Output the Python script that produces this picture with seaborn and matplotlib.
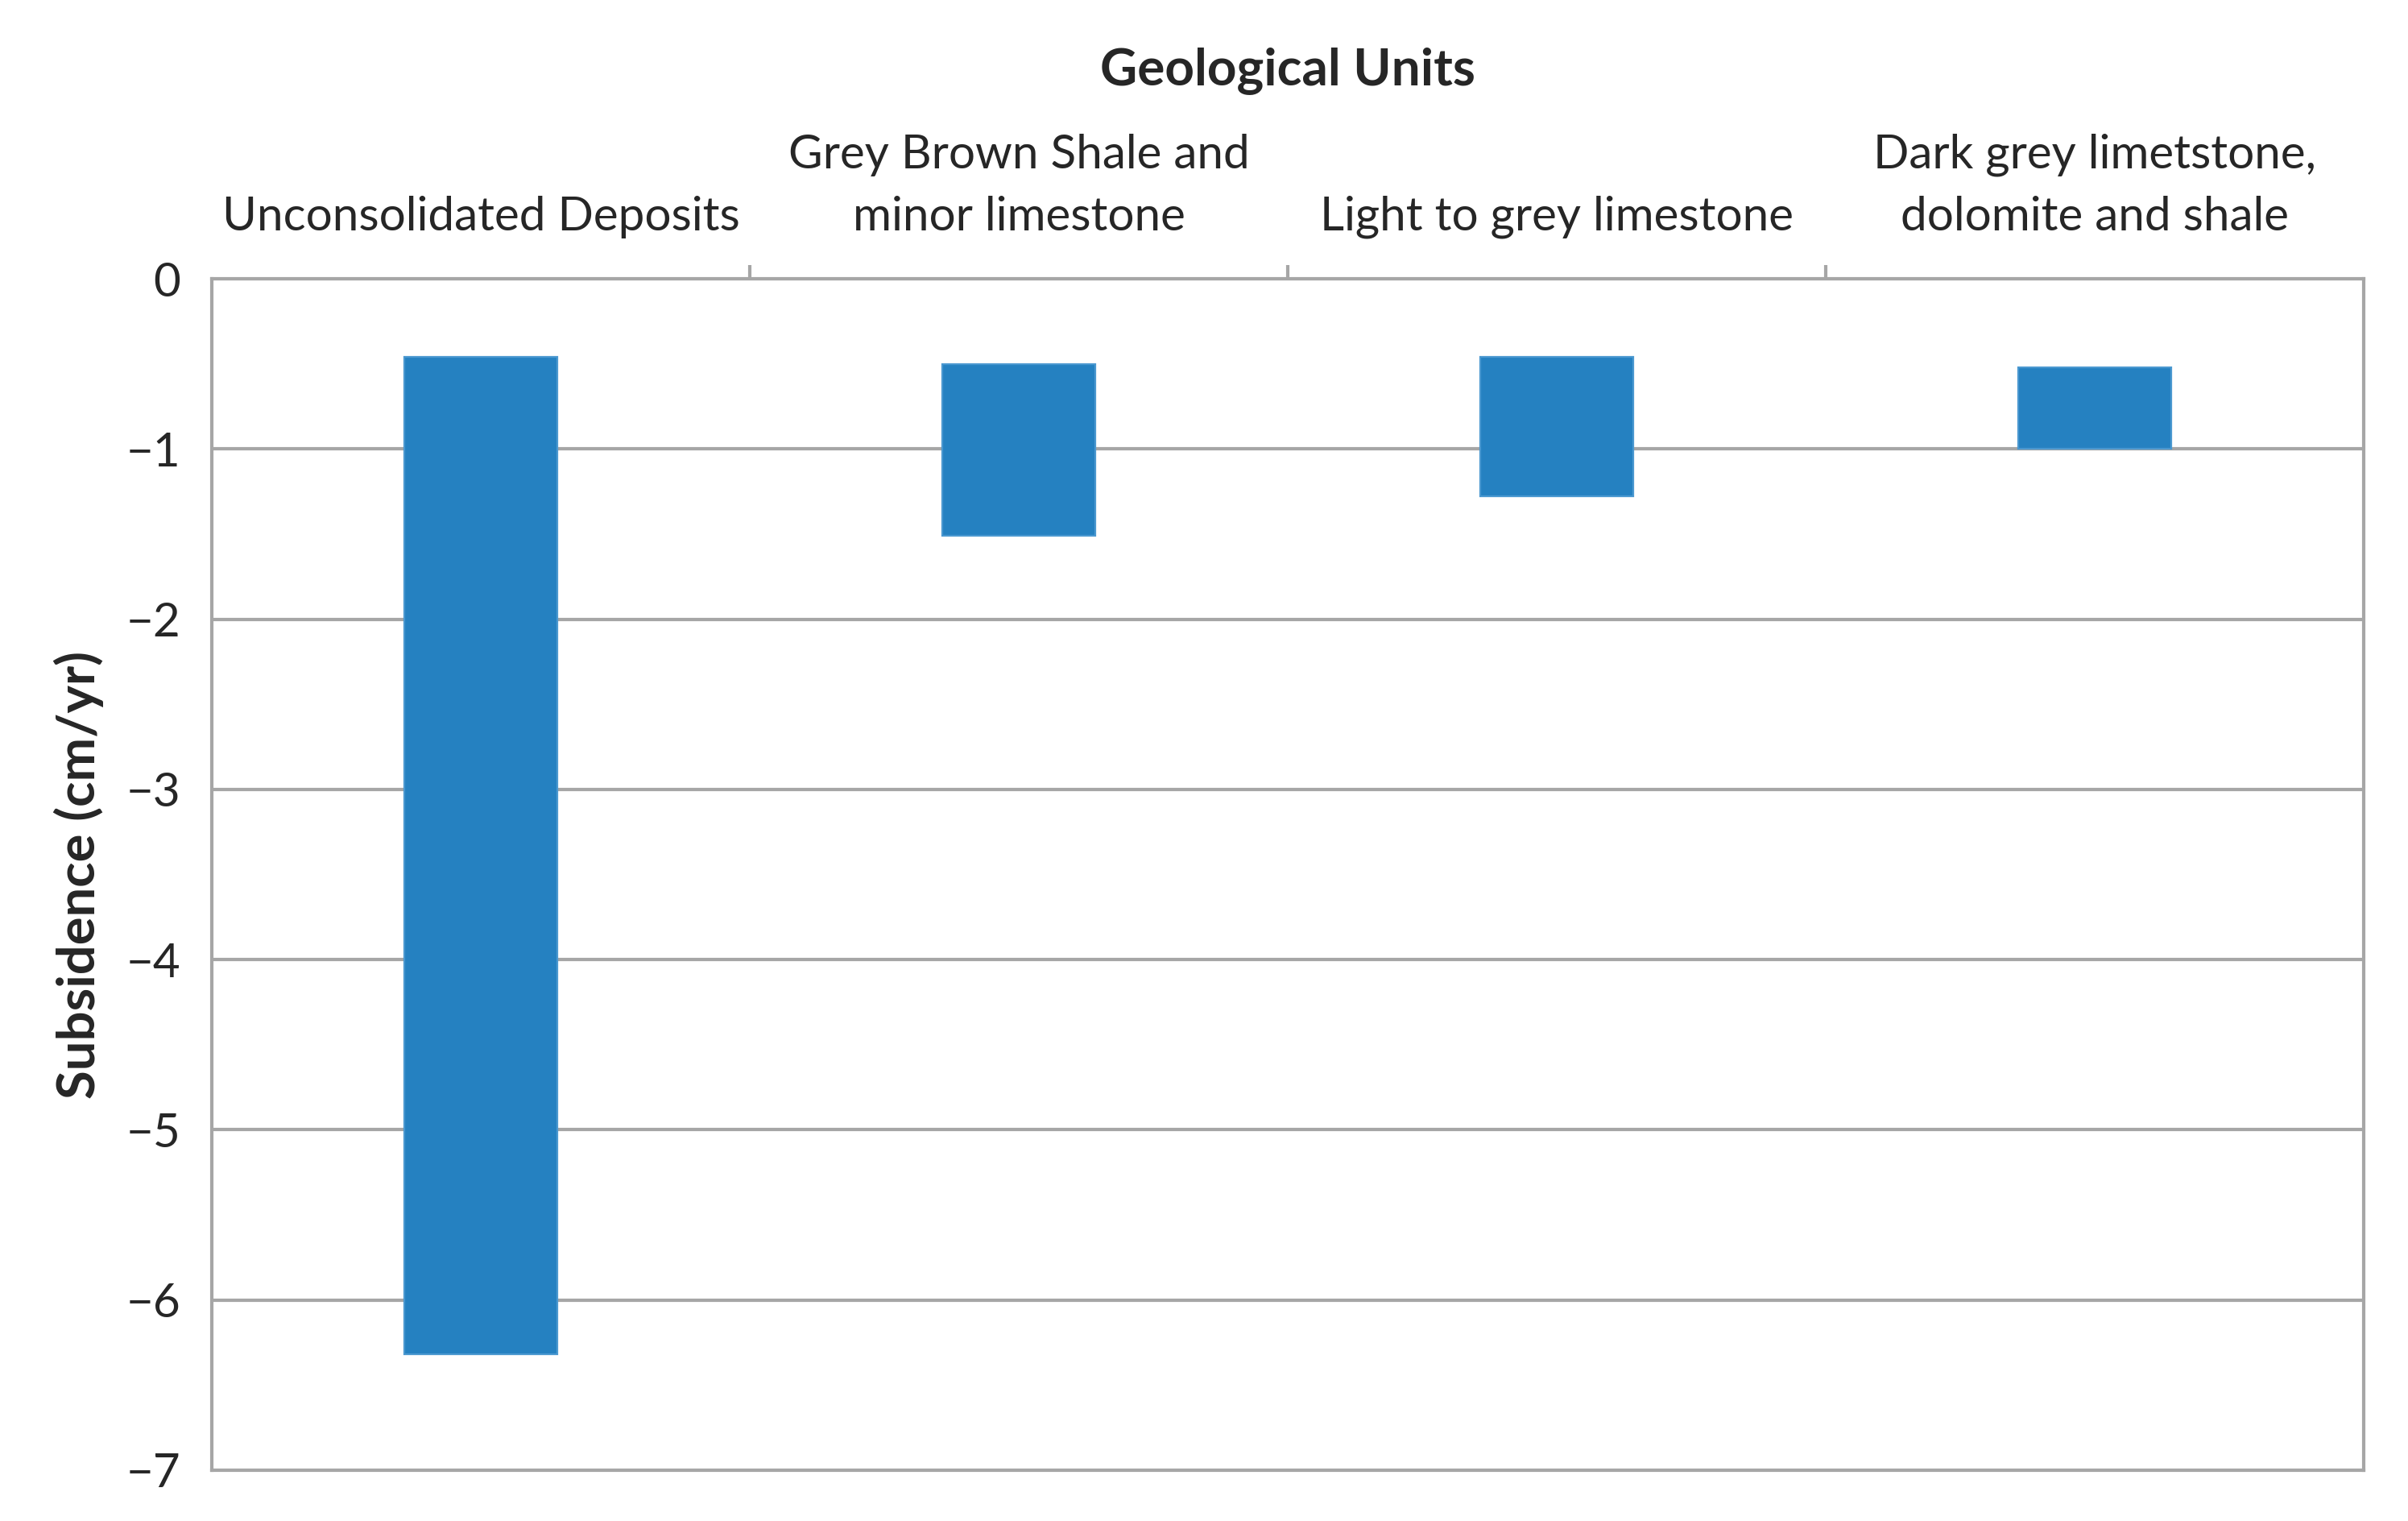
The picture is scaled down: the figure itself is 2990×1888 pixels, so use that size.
import matplotlib
matplotlib.use("Agg")
from matplotlib import pyplot as plt
import numpy as np
import pandas as pd
import seaborn as sns

# geological units and the subsidence range (cm/yr) of each
units = ["Unconsolidated Deposits",
         "Grey Brown Shale and\nminor limestone",
         "Light to grey limestone",
         "Dark grey limetstone,\ndolomite and shale"]
top = [-0.46, -0.50, -0.46, -0.52]
low = [-6.32, -1.51, -1.28, -1.00]

df = pd.DataFrame({"unit": units, "top": top, "low": low})
df["span"] = df["low"] - df["top"]

sns.set_style("white")
plt.rcParams["font.family"] = ["Lato", "DejaVu Sans"]

fig, ax = plt.subplots(figsize=(14.95, 9.44), dpi=200)
fig.subplots_adjust(left=0.088, right=0.9816, top=0.8167, bottom=0.0334)

sns.barplot(data=df, x="unit", y="span", bottom=df["top"], color="#2581C1",
            saturation=1, width=0.285, edgecolor="#4A98D0", linewidth=0.8,
            ax=ax, zorder=3)

ax.set_ylim(-7, 0)
ax.set_xlim(-0.5, 3.5)
ax.set_yticks(np.arange(-7, 1, 1))
ax.set_yticklabels([("\u2212%d" % -v) if v < 0 else "0" for v in range(-7, 1)],
                   fontsize=21)
ax.yaxis.grid(True, color="#A6A6A6", linewidth=1.5, zorder=0)
ax.set_axisbelow(True)

ax.xaxis.tick_top()
ax.xaxis.set_label_position("top")
ax.set_xticks(range(len(units)))
ax.set_xticklabels(units, fontsize=21, linespacing=1.55)
ax.set_xticks([0.5, 1.5, 2.5], minor=True)
ax.tick_params(axis="x", which="major", length=0, pad=18)
ax.tick_params(axis="x", which="minor", length=6, width=1.5, color="#A6A6A6",
               direction="out")
ax.tick_params(axis="y", length=0, pad=14)

ax.set_xlabel("Geological Units", fontsize=23, fontweight="bold", labelpad=22)
ax.set_ylabel("Subsidence (cm/yr)", fontsize=23.5, fontweight="bold", labelpad=10)

for s in ax.spines.values():
    s.set_visible(True)
    s.set_color("#A6A6A6")
    s.set_linewidth(1.5)

fig.savefig("out.png", dpi=200, facecolor="white")
